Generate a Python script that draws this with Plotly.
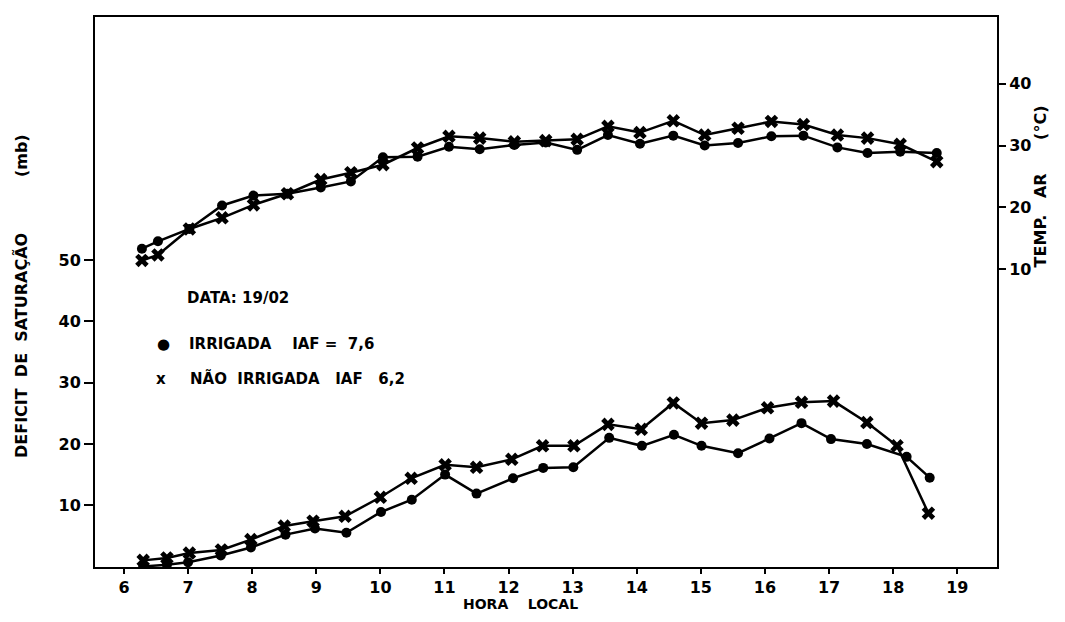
import plotly.graph_objects as go

# ---- data ----
hours_temp = [6.28, 6.53, 7.02, 7.53, 8.02, 8.55, 9.07, 9.54, 10.04, 10.58, 11.07, 11.55, 12.09,
              12.58, 13.07, 13.55, 14.05, 14.57, 15.06, 15.58, 16.10, 16.60, 17.13, 17.60, 18.11, 18.68]
temp_irr = [13.3, 14.5, 16.5, 20.3, 21.9, 22.2, 23.2, 24.2, 28.1, 28.2, 29.8, 29.4, 30.1,
            30.5, 29.3, 31.7, 30.3, 31.6, 30.0, 30.4, 31.5, 31.6, 29.7, 28.8, 29.0, 28.8]
temp_nirr = [11.4, 12.3, 16.5, 18.3, 20.4, 22.2, 24.5, 25.6, 26.9, 29.6, 31.5, 31.2, 30.6,
             30.8, 31.0, 33.1, 32.1, 34.0, 31.7, 32.8, 33.9, 33.4, 31.7, 31.2, 30.2, 27.4]

hours_def_irr = [6.30, 6.67, 7.00, 7.51, 7.98, 8.52, 8.98, 9.47, 10.01, 10.49, 11.01, 11.50, 12.07,
                 12.54, 13.01, 13.57, 14.08, 14.58, 15.01, 15.58, 16.07, 16.57, 17.03, 17.59, 18.21, 18.57]
def_irr = [0.0, 0.3, 0.7, 1.8, 3.1, 5.2, 6.2, 5.5, 8.9, 10.9, 15.0, 11.9, 14.4,
           16.1, 16.2, 21.0, 19.7, 21.5, 19.7, 18.5, 20.9, 23.4, 20.8, 20.0, 17.9, 14.5]
hours_def_nirr = [6.30, 6.67, 7.02, 7.52, 7.98, 8.50, 8.95, 9.45, 10.00, 10.48, 11.01, 11.50, 12.05,
                  12.53, 13.02, 13.55, 14.07, 14.57, 15.01, 15.50, 16.04, 16.57, 17.07, 17.59, 18.06, 18.55]
def_nirr = [1.0, 1.4, 2.2, 2.7, 4.4, 6.6, 7.4, 8.2, 11.3, 14.4, 16.6, 16.2, 17.5,
            19.7, 19.7, 23.2, 22.4, 26.7, 23.4, 23.9, 25.9, 26.8, 27.0, 23.5, 19.7, 8.7]

x_ticks = list(range(6, 20))
left_ticks = [10, 20, 30, 40, 50]
right_ticks = [10, 20, 30, 40]

FONT = "DejaVu Sans"
OFF = 8  # default page body margin
W, H = 1065 - 2 * OFF, 622 - 2 * OFF
# plot-area edges in page pixels
L, R, T, B = 95, 997, 15, 567


def px(xp):
    return (xp - L) / (R - L)


def py(yp):
    return (B - yp) / (B - T)


fig = go.Figure()

line_style = dict(color="black", width=2.5)
dot = dict(symbol="circle", size=10, color="black")
cross = dict(symbol="x", size=12, color="black", line=dict(width=0))

fig.add_trace(go.Scatter(x=hours_def_irr, y=def_irr, mode="lines+markers",
                         line=line_style, marker=dot, yaxis="y"))
fig.add_trace(go.Scatter(x=hours_def_nirr, y=def_nirr, mode="lines+markers",
                         line=line_style, marker=cross, yaxis="y"))
fig.add_trace(go.Scatter(x=hours_temp, y=temp_irr, mode="lines+markers",
                         line=line_style, marker=dot, yaxis="y2"))
fig.add_trace(go.Scatter(x=hours_temp, y=temp_nirr, mode="lines+markers",
                         line=line_style, marker=cross, yaxis="y2"))

tickfont = dict(family=FONT, size=16, color="black", weight="bold")

fig.update_layout(
    width=W, height=H, autosize=False,
    margin=dict(l=L - OFF, r=W - (R - OFF), t=T - OFF, b=H - (B - OFF)),
    paper_bgcolor="white", plot_bgcolor="white",
    showlegend=False,
    xaxis=dict(range=[5.548, 19.62], tickvals=x_ticks, ticktext=[str(v) for v in x_ticks],
               showgrid=False, zeroline=False, showline=True, linecolor="black", linewidth=2,
               mirror=True, ticks="outside", ticklen=5, tickwidth=1.5, tickcolor="black",
               tickfont=tickfont),
    yaxis=dict(range=[-0.08, 89.7], tickvals=left_ticks, ticktext=[str(v) for v in left_ticks],
               showgrid=False, zeroline=False, showline=True, linecolor="black", linewidth=2,
               mirror=True, ticks="outside", ticklen=9, tickwidth=1.5, tickcolor="black",
               tickfont=tickfont),
    yaxis2=dict(range=[-38.2, 50.8], overlaying="y", side="right", tickvals=right_ticks,
                ticktext=[str(v) for v in right_ticks],
                showgrid=False, zeroline=False, showline=False,
                ticks="outside", ticklen=8, tickwidth=1.5, tickcolor="black",
                tickfont=tickfont),
)

annot_font = dict(family=FONT, size=15, color="black", weight="bold")
title_font = dict(family=FONT, size=16, color="black", weight="bold")
xtitle_font = dict(family=FONT, size=14, color="black", weight="bold")
annots = [
    dict(text="DATA: 19/02", x=px(185), y=py(297), xanchor="left", yanchor="middle", font=annot_font),
    dict(text="●", x=px(163), y=py(343), xanchor="center", yanchor="middle", font=annot_font),
    dict(text="IRRIGADA    IAF =  7,6", x=px(187), y=py(343), xanchor="left", yanchor="middle",
         font=annot_font),
    dict(text="x", x=px(161), y=py(378), xanchor="center", yanchor="middle", font=annot_font),
    dict(text="NÃO  IRRIGADA   IAF   6,2", x=px(188), y=py(378), xanchor="left", yanchor="middle",
         font=annot_font),
    dict(text="HORA    LOCAL", x=px(520), y=py(604), xanchor="center", yanchor="middle",
         font=xtitle_font),
    dict(text="DEFICIT  DE  SATURAÇÃO          (mb)", x=px(22), y=py(295), xanchor="center",
         yanchor="middle", textangle=-90, font=title_font),
    dict(text="TEMP.   AR      (°C)", x=px(1040), y=py(185), xanchor="center",
         yanchor="middle", textangle=-90, font=title_font),
]
for a in annots:
    fig.add_annotation(xref="paper", yref="paper", showarrow=False, **a)

fig.write_html("out.html")
